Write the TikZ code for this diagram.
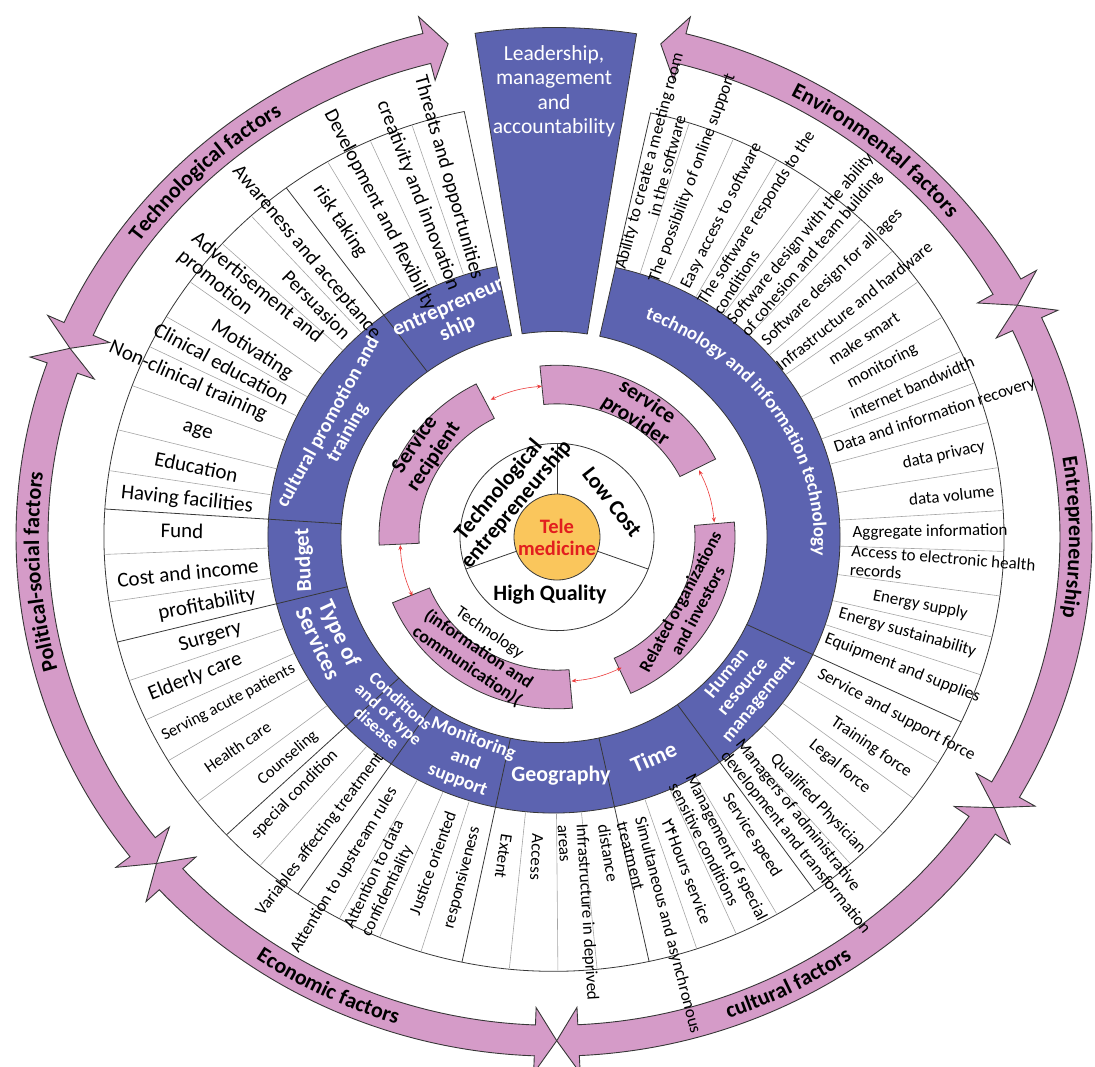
\documentclass[tikz,border=0pt]{standalone}
\usepackage{fontspec}
\setmainfont{Carlito}
\newfontfamily\dvs{DejaVu Sans}
\usetikzlibrary{arrows.meta,decorations.text}
\definecolor{ringpink}{RGB}{213,155,200}
\definecolor{ringblue}{RGB}{92,99,176}
\definecolor{teleyel}{RGB}{250,198,92}
\definecolor{telered}{RGB}{226,30,30}
\definecolor{lineg}{RGB}{55,55,55}
\definecolor{thing}{RGB}{165,165,165}
\definecolor{redarrow}{RGB}{235,60,60}
\newcommand\fA{\fontsize{21pt}{22.5pt}\selectfont}
\newcommand\fC{\fontsize{20pt}{21.5pt}\selectfont}
\newcommand\fB{\fontsize{17pt}{19pt}\selectfont}
\newcommand\fD{\fontsize{16.5pt}{18.5pt}\selectfont}
\newcommand\itm[6][center]{%
  \pgfmathsetmacro\itmrot{and(#3>90,#3<258.3) ? #3-180 : #3}%
  \node[itm, align=#1, font=#5, rotate=\itmrot] (#2) at (#3:#4) {#6};}
\newcommand\ringarrow[2]{%
  \filldraw[fill=ringpink, draw=lineg, line width=0.9pt]
   (#1:522) -- ({#1+2.4}:556) -- ({#1+2.4}:538)
   arc[start angle={#1+2.4}, end angle={#2-2.4}, radius=538]
   -- ({#2-2.4}:556) -- (#2:522) -- ({#2-2.4}:488) -- ({#2-2.4}:506)
   arc[start angle={#2-2.4}, end angle={#1+2.4}, radius=506]
   -- ({#1+2.4}:488) -- cycle;}
\begin{document}
\begin{tikzpicture}[x=1pt,y=1pt,yscale=0.965,
  lw/.style={draw=lineg, line width=0.8pt},
  thindiv/.style={draw=thing, line width=0.6pt},
  itm/.style={inner sep=0pt, align=center, text=black},
  bluelab/.style={inner sep=0pt, align=center, text=white, font=\bfseries\fontsize{21.5pt}{23pt}\selectfont},
  pinklab/.style={inner sep=0pt, align=center, text=black, font=\bfseries\fontsize{21.5pt}{22.5pt}\selectfont},
  inlab/.style={inner sep=0pt, align=center, text=black, font=\bfseries\fontsize{22pt}{23pt}\selectfont},
  redarr/.style={draw=redarrow, line width=0.6pt, {Stealth[length=5pt,width=4pt]}-{Stealth[length=5pt,width=4pt]}},
  outlab/.style={decorate, decoration={text along path, text align=center, text={|\bfseries\fontsize{22pt}{22pt}\selectfont|#1}}}
]
\useasboundingbox (-554,-549.2) rectangle (541,556.5);

% ---------- outer ring of arrows
\ringarrow{101.7}{158}
\ringarrow{158}{220.4}
\ringarrow{220.4}{270.3}
\ringarrow{270.3}{327.5}
\ringarrow{327.5}{387.4}
\ringarrow{27.4}{78.2}

\path[outlab={Technological factors}] (165:515) arc[start angle=165, end angle=101, radius=515];
\path[outlab={Environmental factors}] (83:515) arc[start angle=83, end angle=19, radius=515];
\path[outlab={Entrepreneurship}] (35:515) arc[start angle=35, end angle=-35, radius=515];
\path[outlab={Political-social factors}] (214:515) arc[start angle=214, end angle=154, radius=515];
\path[outlab={Economic factors}] (214:529) arc[start angle=214, end angle=274, radius=529];
\path[outlab={cultural factors}] (267:529) arc[start angle=267, end angle=327, radius=529];

% ---------- leadership wedge
\filldraw[fill=ringblue, draw=lineg, line width=0.8pt] (81:213) -- (81:528)
  arc[start angle=81, end angle=98.6, radius=528] -- (98.6:213)
  arc[start angle=98.6, end angle=81, radius=213] -- cycle;
\node[inner sep=0pt, align=center, text=white, font=\fontsize{21.5pt}{24.5pt}\selectfont] (lead) at (90:462)
  {Leadership,\\management\\and\\accountability};

% ---------- item ring
\foreach \a in {108.4,114.1,120.2,132.3,137.5,144,149.5,154,159.6,165.7,171.2,
  182.3,188.6,199.3,204.9,211,217.6,229.2,241.5,247.2,252.8,264.3,270.5,275.5,
  288.5,293.9,299.7,311.2,317,323,328.6,341.5,346.7,352.2,358.1,363.5,369.2,
  375.3,380.8,385.3,390.4,396,401.2,407,413.7,420.3,426.5,432.5}
  \draw[thindiv] (\a:287) -- (\a:449);
\draw[lw] (101.5:286) -- (101.5:450) arc[start angle=101.5, end angle=437.6, radius=450] -- (437.6:286);

% ---------- blue ring
\filldraw[fill=ringblue, draw=lineg, line width=0.8pt] (101.5:213) -- (101.5:286)
  arc[start angle=101.5, end angle=437.6, radius=286] -- (437.6:213)
  arc[start angle=437.6, end angle=101.5, radius=213] -- cycle;
\foreach \a in {126.5,176.3,194,223.3,235.3,258.2,282.2,305.4,334.8}
  \draw[lw] (\a:213) -- (\a:450);

\node[bluelab, rotate=24] (bl1) at (114:248) {entrepreneur\\ship};
\node[bluelab, font=\bfseries\fontsize{20pt}{22pt}\selectfont, rotate=61] (bl2) at (152.3:244) {cultural promotion and\\training};
\node[bluelab, rotate=93] (bl3) at (185.4:251) {Budget};
\node[bluelab, font=\bfseries\fontsize{23pt}{24pt}\selectfont, rotate=-65] (bl4) at (205:248) {Type of\\Services};
\node[bluelab, font=\bfseries\fontsize{17.5pt}{18pt}\selectfont, rotate=-42] (bl5) at (228:247) {Conditions\\and of type\\disease};
\node[bluelab, font=\bfseries\fontsize{19pt}{22pt}\selectfont, rotate=-21] (bl6) at (249:247) {Monitoring\\and\\support};
\node[bluelab, font=\bfseries\fontsize{22pt}{23pt}\selectfont] (bl7) at (271.6:247) {Geography};
\node[bluelab, font=\bfseries\fontsize{23pt}{24pt}\selectfont, rotate=23.6] (bl8) at (293.6:249) {Time};
\node[bluelab, font=\bfseries\fontsize{19pt}{20.5pt}\selectfont, rotate=50.6] (bl9) at (320.6:245) {Human\\resource\\management};
\path[decorate, decoration={text along path, text align=center, text color=white,
  text={|\bfseries\fontsize{19pt}{19pt}\selectfont|technology and information technology}}]
  (75.4,232.1) .. controls (191.4,194.4) and (275,88.5) .. (257.5,-36.2);

% ---------- items
\itm{e1}{105.8}{387}{\fC}{Threats and opportunities}
\itm{e2}{111}{379}{\fC}{creativity and innovation}
\itm{e3}{117.2}{381}{\fC}{Development and flexibility}
\itm{e4}{123.2}{391}{\fC}{risk taking}
\itm{c1}{130}{385}{\fC}{Awareness and acceptance}
\itm{c2}{134.6}{338}{\fC}{Persuasion}
\itm[left]{c3}{140.7}{393}{\fA}{Advertisement and\\promotion}
\itm{c4}{147.3}{359}{\fA}{Motivating}
\itm{c5}{151.6}{378}{\fA}{Clinical education}
\itm{c6}{156.2}{400}{\fA}{Non-clinical training}
\itm{c7}{163}{373}{\fA}{age}
\itm{c8}{168.5}{365}{\fA}{Education}
\itm{c9}{174}{369}{\fA}{Having facilities}
\itm{b1}{179}{372}{\fA}{Fund}
\itm{b2}{185.8}{368}{\fA}{Cost and income}
\itm{b3}{191.4}{354}{\fA}{profitability}
\itm{t1}{196.8}{359}{\fA}{Surgery}
\itm{t2}{202}{387}{\fA}{Elderly care}
\itm{t3}{207.8}{368}{\fD}{Serving acute patients}
\itm{t4}{214.5}{384}{\fD}{Health care}
\itm{t5}{220.7}{351}{\fD}{Counseling}
\itm{d1}{225.8}{372}{\fB}{special condition}
\itm{d2}{232.8}{387}{\fB}{Variables affecting treatment}
\itm{m1}{238.7}{404}{\fB}{Attention to upstream rules}
\itm[left]{m2}{244.2}{393}{\fB}{Attention to data\\confidentiality}
\itm{m3}{250.2}{359}{\fB}{Justice oriented}
\itm{m4}{255.4}{365}{\fB}{responsiveness}
\itm{g1}{261.3}{335}{\fB}{Extent}
\itm{g2}{267}{332}{\fB}{Access}
\itm[left]{g3}{273.6}{390}{\fB}{Infrastructure in deprived\\areas}
\itm{g4}{279.4}{332}{\fB}{distance}
\itm[left]{h1}{284.6}{418}{\fB}{Simultaneous and asynchronous\\treatment}
\itm{h2}{291}{371}{\fB}{{\dvs ۲۴}Hours service}
\itm[left]{h3}{296.8}{365}{\fB}{Management of special\\sensitive conditions}
\itm{h4}{302.6}{367}{\fB}{Service speed}
\itm[left]{u1}{308.7}{398}{\fB}{Managers of administrative\\development and transformation}
\itm{u2}{313.7}{382}{\fB}{Qualified Physician}
\itm{u3}{320.2}{372}{\fB}{Legal force}
\itm{u4}{325.5}{385}{\fB}{Training force}
\itm{u5}{331.7}{389}{\fB}{Service and support force}
\itm{x1}{338.7}{374}{\fB}{Equipment and supplies}
\itm{x2}{344.3}{367}{\fB}{Energy sustainability}
\itm{x3}{349.1}{373}{\fB}{Energy supply}
\itm[left]{x4}{355.4}{390}{\fB}{Access to electronic health\\records}
\itm{x5}{0.8}{376}{\fB}{Aggregate information}
\itm{x6}{6.2}{400}{\fB}{data volume}
\itm{x7}{12.3}{399}{\fB}{data privacy}
\itm{x8}{18.3}{401}{\fB}{Data and information recovery}
\itm{x9}{23.4}{390}{\fB}{internet bandwidth}
\itm{x10}{28.3}{373}{\fB}{monitoring}
\itm{x11}{33.6}{372}{\fB}{make smart}
\itm{x12}{38.6}{384}{\fB}{Infrastructure and hardware}
\itm{x13}{44}{387}{\fB}{Software design for all ages}
\itm[left]{x14}{50}{395}{\fB}{Software design with the ability\\of cohesion and team building}
\itm[left]{x15}{57.3}{388}{\fB}{The software responds to the\\conditions}
\itm{x16}{63.3}{373}{\fB}{Easy access to software}
\itm{x17}{69.6}{397}{\fB}{The possibility of online support}
\itm{x18}{75}{401}{\fB}{Ability to create a meeting room\\in the software}

% ---------- inner part
\begin{scope}[shift={(3,0)}]
\foreach \a/\b in {27/95.5, 294.5/365, 202.5/275, 117/182.7}
  \filldraw[fill=ringpink, draw=lineg, line width=0.8pt] (\a:138)
    arc[start angle=\a, end angle=\b, radius=138] -- (\b:178)
    arc[start angle=\b, end angle=\a, radius=178] -- cycle;
\node[pinklab, rotate=-33] (sp) at (57.1:155) {service\\provider};
\node[pinklab, font=\bfseries\fontsize{17.5pt}{19.5pt}\selectfont, rotate=62] (ro) at (331.5:150) {Related organizations\\and investors};
\node[pinklab, rotate=56] (sr) at (146:160) {Service\\recipient};
\node[pinklab, font=\fontsize{17pt}{20.5pt}\selectfont, rotate=-34] (te) at (236:141)
  {Technology\\\bfseries\fontsize{18pt}{20.5pt}\selectfont (information and\\\bfseries\fontsize{18pt}{20.5pt}\selectfont communication)(};
\coordinate (r1a) at (115:157); \coordinate (r1b) at (95.5:157);
\coordinate (r2a) at (26:158);  \coordinate (r2b) at (5.5:158);
\coordinate (r3a) at (295.5:150); \coordinate (r3b) at (275.5:150);
\coordinate (r4a) at (203:157); \coordinate (r4b) at (183:157);
\draw[redarr] (r1a) to[bend left=10] (r1b);
\draw[redarr] (r2a) to[bend left=10] (r2b);
\draw[redarr] (r3a) to[bend left=10] (r3b);
\draw[redarr] (r4a) to[bend left=10] (r4b);
\filldraw[fill=white, draw=lineg, line width=0.8pt] (0,0) circle[radius=97];
\foreach \a in {90,200,340} \draw[lw] (\a:42) -- (\a:97);
\node[inlab, rotate=50] (tecent) at (140.3:64) {Technological\\entrepreneurship};
\node[inlab, rotate=-52] (lowc) at (33.4:66) {Low Cost};
\node[inlab] (highq) at (263.3:60) {High Quality};
\node[circle, fill=teleyel, draw=lineg, line width=0.8pt, minimum size=84pt, inner sep=0pt,
  align=center, text=telered, font=\bfseries\fontsize{20.5pt}{22pt}\selectfont] (tele) at (0,0) {Tele\\medicine};
\end{scope}
\end{tikzpicture}
\end{document}
